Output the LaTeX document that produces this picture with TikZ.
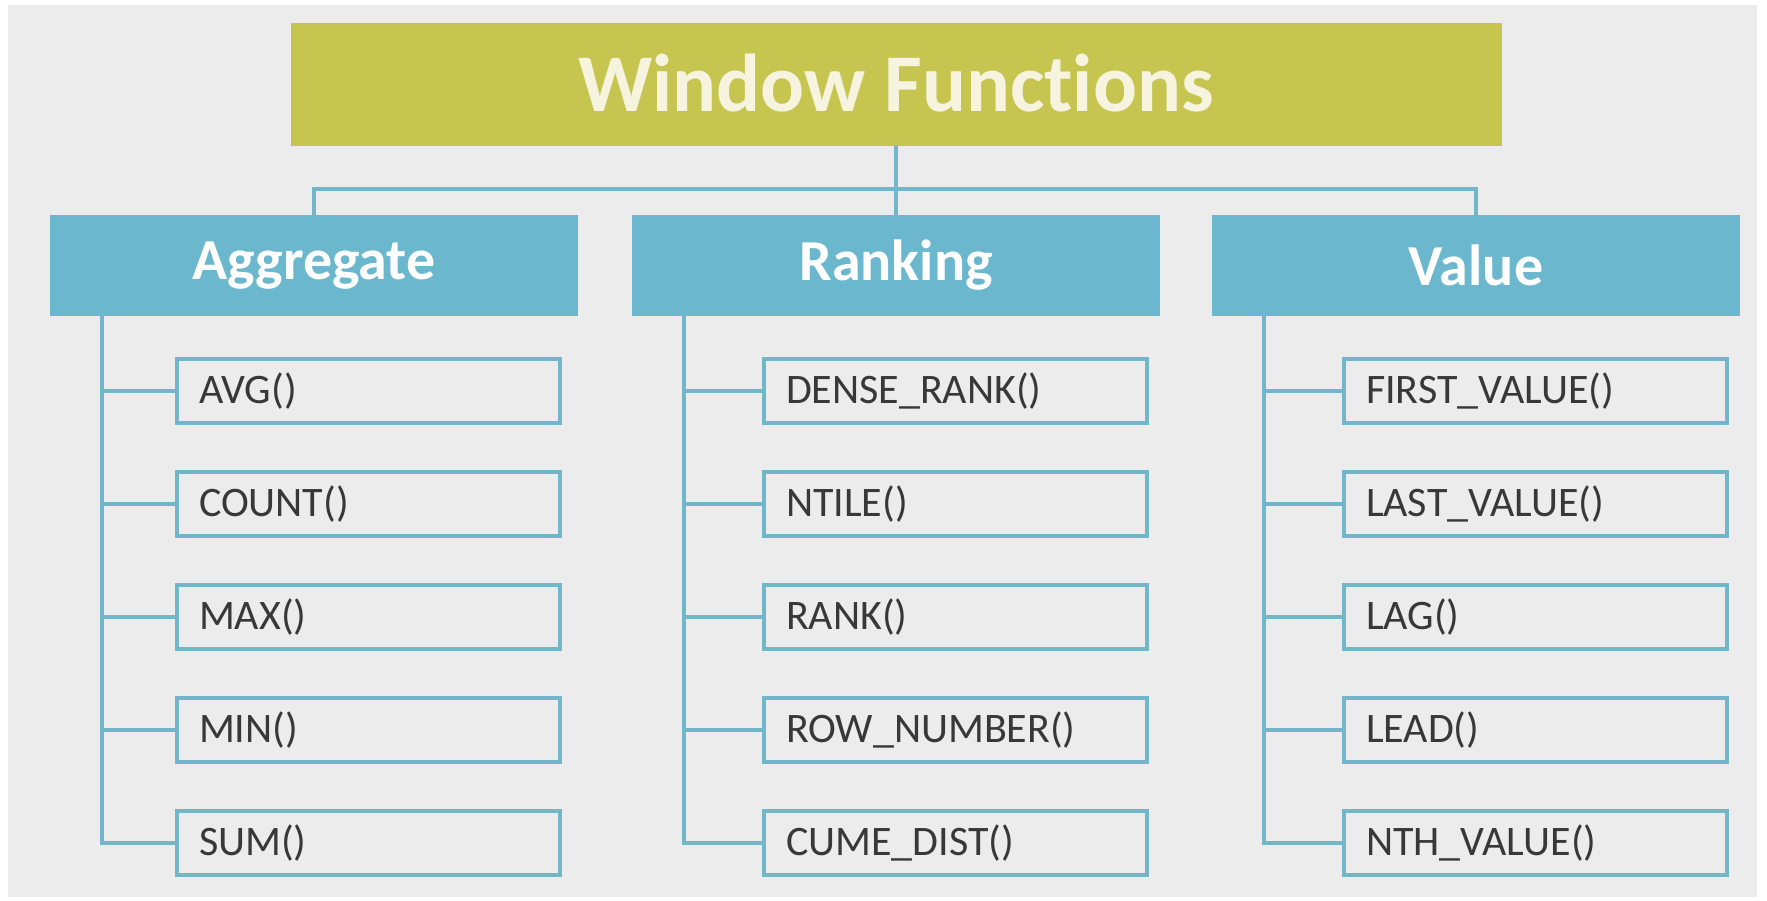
\documentclass[tikz,border=0pt]{standalone}
\usepackage{fontspec}
\setmainfont{Carlito}[Ligatures=NoCommon]
\usetikzlibrary{positioning}
\definecolor{bggray}{HTML}{ECECEC}
\definecolor{olive}{HTML}{C6C550}
\definecolor{cream}{HTML}{F6F3DF}
\definecolor{sky}{HTML}{6AB7CE}
\definecolor{skyline}{HTML}{72B6CA}
\definecolor{ink}{HTML}{383838}

\begin{document}
\begin{tikzpicture}[x=1pt,y=-1pt,
   titlebox/.style={fill=olive,text=cream,inner sep=0pt,minimum width=1211pt,minimum height=123pt,
      font=\bfseries\fontsize{82}{88}\selectfont},
   catbox/.style={fill=sky,text=white,inner sep=0pt,minimum width=528pt,minimum height=101pt,
      font=\bfseries\fontsize{58}{64}\selectfont},
   itembox/.style={draw=skyline,line width=4pt,fill=bggray,text=ink,anchor=west,inner xsep=22pt,
      text width=339pt,align=left,minimum height=64pt,font=\fontsize{42}{48}\selectfont},
   link/.style={draw=skyline,line width=3.5pt}]
   % Page and background
   \fill [white] (0,0) rectangle (1767,900);
   \fill [bggray] (8,5) rectangle (1757,897);
   % Heading
   \node [titlebox] (title) at (896,84.5) {\raisebox{4pt}{Window Func\kern0pt tions}};
   % Categories
   \node [catbox] (agg)  at (314,265.5)  {Aggregate};
   \node [catbox] (rank) at (896,265.5)  {Ranking};
   \node [catbox] (val)  at (1476,265.5) {Value};
   % Tree from heading to categories
   \coordinate (hub) at (896,189);
   \draw [link] (title.south) -- (hub);
   \draw [link] (agg.north) |- (hub) -| (val.north);
   \draw [link] (hub) -- (rank.north);
   % Functions of each category
   \foreach \cat/\ix/\names in {agg/175/{AVG(),COUNT(),MAX(),MIN(),SUM()},
         rank/762/{DENSE\_RANK(),NTILE(),RANK(),ROW\_NUMBER(),CUME\_DIST()},
         val/1342/{FIRST\_VALUE(),LAST\_VALUE(),LAG(),LEAD(),NTH\_VALUE()}} {
      \foreach \name [count=\i] in \names
         \node [itembox] (\cat-\i) at (\ix,{391+113*(\i-1)}) {\name};
      \coordinate (\cat-top) at ([xshift=52pt]\cat.south west);
      \draw [link] (\cat-top) |- (\cat-5.west);
      \foreach \i in {1,...,4}
         \draw [link] (\cat-top |- \cat-\i.west) -- (\cat-\i.west);
   }
\end{tikzpicture}
\end{document}
